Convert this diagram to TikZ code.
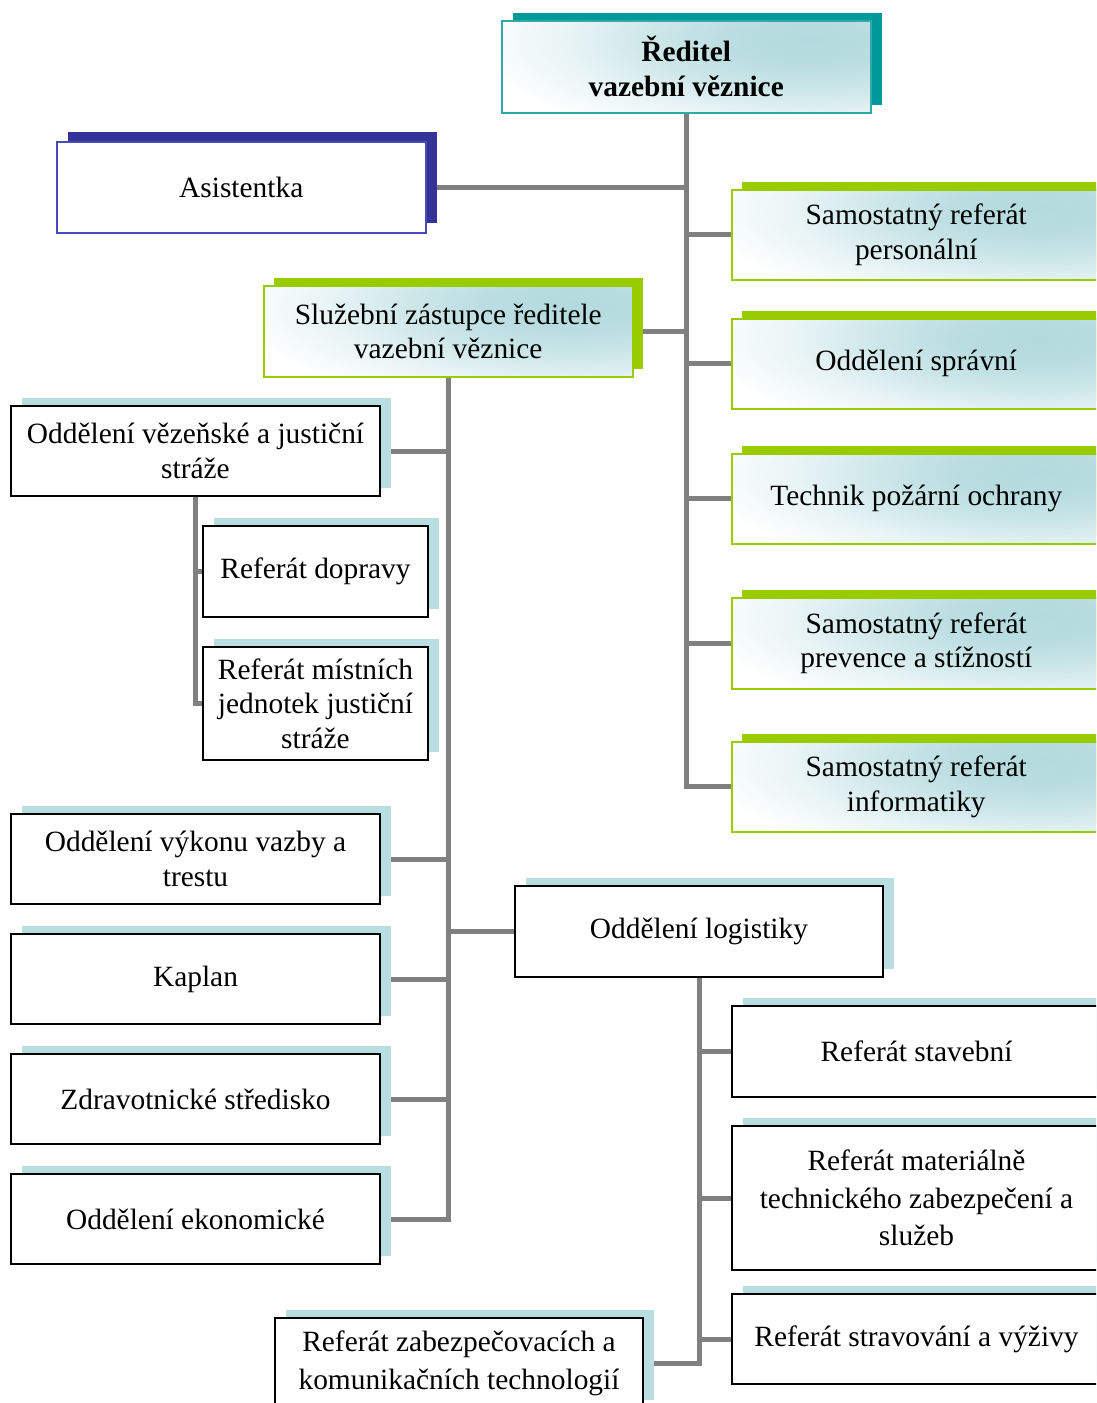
\documentclass[tikz,border=0pt]{standalone}
\usepackage{fontspec}
\setmainfont{Liberation Serif}
\usetikzlibrary{shadows,backgrounds}
\definecolor{tealdark}{HTML}{009999}
\definecolor{tealbord}{HTML}{33A8A8}
\definecolor{navyc}{HTML}{333399}
\definecolor{navybord}{HTML}{4848B8}
\definecolor{greenc}{HTML}{99CC00}
\definecolor{shadowblue}{HTML}{B8DEE1}
\definecolor{gradblue}{HTML}{B3DADE}
\definecolor{linegray}{HTML}{808080}
\pgfdeclareradialshading{boxglow}{\pgfpoint{0bp}{0bp}}{%
  color(0bp)=(gradblue); color(6bp)=(gradblue!92!white);
  color(12bp)=(gradblue!65!white); color(18bp)=(gradblue!30!white);
  color(25bp)=(white); color(50bp)=(white)}
\begin{document}
\begin{tikzpicture}[x=1pt,y=-1pt,
  base/.style={anchor=north west, rectangle, align=center, inner sep=2pt, text=black,
    font=\fontsize{29.4}{34.5}\selectfont},
  glow/.style={fill=white, path picture={
    \shade[shading=boxglow]
      ([xshift=-60pt,yshift=-20pt]path picture bounding box.north east)
      ellipse [x radius=340pt, y radius=105pt];}},
  bluebox/.style={base, draw=black, line width=2pt, fill=white,
    general shadow={fill=shadowblue, shadow xshift=11pt, shadow yshift=8pt}},
  greenbox/.style={base, draw=greenc, line width=1.5pt, glow,
    general shadow={fill=greenc, shadow xshift=10pt, shadow yshift=8pt}},
  dirbox/.style={base, draw=tealbord, line width=1.5pt, glow,
    general shadow={fill=tealdark, shadow xshift=11pt, shadow yshift=8pt}},
  asbox/.style={base, draw=navybord, line width=1.5pt, fill=white,
    general shadow={fill=navyc, shadow xshift=11pt, shadow yshift=10pt}},
  conn/.style={draw=linegray, line width=5pt}]
\path[use as bounding box] (0,0) rectangle (1096,1403);
\clip (0,0) rectangle (1096,1403);

% top level
\node[dirbox, minimum width=369pt, minimum height=92pt, font=\fontsize{29.4}{35}\selectfont\bfseries] (dir) at (501,20) {Ředitel\\vazební věznice};
\node[asbox, minimum width=369pt, minimum height=91pt] (ass) at (56,141) {Asistentka};

% right column
\node[greenbox, minimum width=369pt, minimum height=90pt] (per) at (731,189) {Samostatný referát\\personální};
\node[greenbox, minimum width=369pt, minimum height=90pt] (spr) at (731,318) {Oddělení správní};
\node[greenbox, minimum width=369pt, minimum height=90pt] (tech) at (731,453) {Technik požární ochrany};
\node[greenbox, minimum width=369pt, minimum height=91pt] (prev) at (731,597) {Samostatný referát\\prevence a stížností};
\node[greenbox, minimum width=369pt, minimum height=90pt] (inf) at (731,741) {Samostatný referát\\informatiky};

% deputy
\node[greenbox, minimum width=369pt, minimum height=91pt] (zast) at (263,285) {Služební zástupce ředitele\\vazební věznice};

% left column
\node[bluebox, minimum width=369pt, minimum height=90pt] (vez) at (10,405) {Oddělení vězeňské a justiční\\stráže};
\node[bluebox, minimum width=225pt, minimum height=91pt] (dop) at (202,525) {Referát dopravy};
\node[bluebox, minimum width=225pt, minimum height=113pt] (mist) at (202,646) {Referát místních\\jednotek justiční\\stráže};
\node[bluebox, minimum width=369pt, minimum height=90pt] (vyk) at (10,813) {Oddělení výkonu vazby a\\trestu};
\node[bluebox, minimum width=369pt, minimum height=90pt] (kap) at (10,933) {Kaplan};
\node[bluebox, minimum width=369pt, minimum height=90pt] (zdr) at (10,1053) {Zdravotnické středisko};
\node[bluebox, minimum width=369pt, minimum height=90pt] (eko) at (10,1173) {Oddělení ekonomické};

% logistics
\node[bluebox, minimum width=368pt, minimum height=91pt] (log) at (514,885) {Oddělení logistiky};
\node[bluebox, minimum width=369pt, minimum height=91pt] (stav) at (731,1005) {Referát stavební};
\node[bluebox, minimum width=369pt, minimum height=144pt, font=\fontsize{29.4}{37.5}\selectfont] (mat) at (731,1125) {Referát materiálně\\technického zabezpečení a\\služeb};
\node[bluebox, minimum width=369pt, minimum height=90pt] (stra) at (731,1293) {Referát stravování a výživy};
\node[bluebox, minimum width=368pt, minimum height=90pt, font=\fontsize{29.4}{38}\selectfont] (zab) at (274,1317) {Referát zabezpečovacích a\\komunikačních technologií};

\begin{scope}[on background layer]
  \draw[conn] (dir.south) |- (inf.west);
  \draw[conn] (ass.east) -- (ass.east -| dir.south);
  \draw[conn] (zast.east) -- (zast.east -| dir.south);
  \foreach \n in {per,spr,tech,prev} \draw[conn] (dir.south |- \n.west) -- (\n.west);
  \draw[conn] (zast.south) |- (eko.east);
  \foreach \n in {vez,vyk,kap,zdr} \draw[conn] (zast.south |- \n.east) -- (\n.east);
  \draw[conn] (zast.south |- log.west) -- (log.west);
  \draw[conn] (vez.south) |- (mist.west);
  \draw[conn] (vez.south |- dop.west) -- (dop.west);
  \draw[conn] (log.south) |- (zab.east);
  \foreach \n in {stav,mat,stra} \draw[conn] (log.south |- \n.west) -- (\n.west);
\end{scope}
\end{tikzpicture}
\end{document}
